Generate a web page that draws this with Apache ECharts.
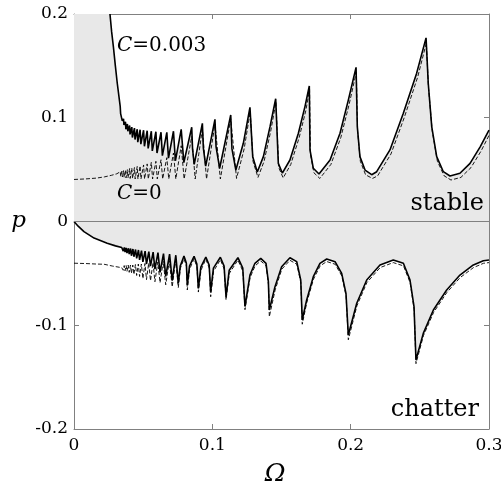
<!DOCTYPE html>
<html><head><meta charset="utf-8">
<script src="https://cdn.jsdelivr.net/npm/echarts@6/dist/echarts.min.js"></script>
<style>html,body{margin:0;padding:0;background:#fff;overflow:hidden}#c{width:501px;height:487px}</style>
</head><body><div id="c"></div>
<script>
// tick labels
const xTickLabels = ['0', '0.1', '0.2', '0.3'];
const yTickLabels = ['-0.2', '-0.1', '0', '0.1', '0.2'];

// upper boundary, C = 0.003 (solid) [Omega, p]
const upperC003 = [
  [0.0260,0.200],[0.0272,0.183],[0.0285,0.168],[0.0299,0.150],[0.0313,0.133],
  [0.0334,0.111],[0.0337,0.104],[0.0346,0.103],[0.0349,0.097],[0.0358,0.099],[0.0361,0.093],
  [0.0372,0.096],[0.0375,0.089],[0.0386,0.094],[0.0389,0.087],[0.0402,0.0925],[0.0405,0.084],
  [0.0418,0.091],[0.0422,0.081],[0.0437,0.090],[0.0441,0.079],[0.0457,0.089],[0.0461,0.0765],
  [0.0478,0.0885],[0.0483,0.0745],[0.0503,0.088],[0.0509,0.0725],[0.0529,0.0875],[0.0536,0.0705],
  [0.0559,0.087],[0.0566,0.068],[0.0592,0.0865],[0.0600,0.066],[0.0629,0.086],[0.0639,0.0635],
  [0.0671,0.086],[0.0683,0.061],[0.0719,0.087],[0.0733,0.0585],[0.0775,0.0888],[0.0794,0.0568],
  [0.0851,0.0908],[0.0857,0.070],[0.0869,0.055],[0.0928,0.0946],[0.0935,0.071],[0.0952,0.0533],
  [0.1019,0.0985],[0.1027,0.072],[0.1053,0.0513],
  [0.1133,0.1027],[0.1142,0.070],[0.1170,0.0496],[0.1224,0.0754],
  [0.1272,0.110],[0.1292,0.0625],[0.1325,0.0477],[0.1369,0.0625],[0.1417,0.0914],
  [0.1458,0.1184],[0.1477,0.056],[0.1506,0.0467],[0.1561,0.0593],[0.1622,0.085],[0.1670,0.111],
  [0.1701,0.1306],[0.1706,0.069],[0.1730,0.0513],[0.1771,0.0458],[0.1851,0.0593],[0.1923,0.085],[0.1983,0.117],
  [0.2039,0.1486],[0.2048,0.0914],[0.2067,0.0625],[0.2104,0.0496],[0.2152,0.0451],[0.2188,0.048],
  [0.2284,0.069],[0.2380,0.104],[0.2477,0.143],
  [0.2545,0.177],[0.2561,0.133],[0.2586,0.0914],[0.2622,0.0625],[0.2670,0.048],[0.2718,0.0439],
  [0.2790,0.0465],[0.2863,0.056],[0.2936,0.072],[0.3000,0.088]
];

// upper boundary, C = 0 (dashed)
const upperC0 = [
  [0.000,0.0405],[0.008,0.041],[0.016,0.0418],[0.022,0.043],[0.027,0.0445],[0.031,0.046],
  [0.0334,0.048],[0.0338,0.0435],[0.0346,0.0485],[0.0350,0.043],[0.0358,0.049],[0.0362,0.0425],
  [0.0372,0.0495],[0.0376,0.042],[0.0386,0.050],[0.0390,0.042],[0.0402,0.051],[0.0406,0.0415],
  [0.0418,0.0515],[0.0423,0.0415],[0.0437,0.052],[0.0442,0.041],[0.0457,0.053],[0.0462,0.041],
  [0.0478,0.0535],[0.0484,0.041],[0.0503,0.0545],[0.0510,0.041],[0.0529,0.0555],[0.0537,0.041],
  [0.0559,0.057],[0.0568,0.041],[0.0592,0.058],[0.0602,0.041],[0.0629,0.0595],[0.0641,0.041],
  [0.0671,0.0615],[0.0685,0.041],[0.0719,0.066],[0.0736,0.041],[0.0775,0.073],[0.0796,0.041],
  [0.0851,0.082],[0.0876,0.041],[0.0928,0.089],[0.0958,0.041],[0.1019,0.094],[0.1058,0.041],
  [0.1133,0.099],[0.1175,0.0415],[0.1230,0.070],
  [0.1274,0.106],[0.1294,0.058],[0.1330,0.0425],[0.1374,0.058],[0.1422,0.087],
  [0.1460,0.115],[0.1480,0.052],[0.1512,0.042],[0.1567,0.055],[0.1628,0.081],[0.1676,0.107],
  [0.1703,0.127],[0.1709,0.065],[0.1734,0.047],[0.1777,0.0415],[0.1857,0.055],[0.1929,0.081],[0.1989,0.113],
  [0.2041,0.144],[0.2050,0.087],[0.2070,0.058],[0.2108,0.045],[0.2158,0.0415],[0.2195,0.044],
  [0.2291,0.065],[0.2387,0.100],[0.2484,0.139],
  [0.2547,0.172],[0.2563,0.128],[0.2590,0.087],[0.2627,0.058],[0.2676,0.044],[0.2725,0.040],
  [0.2797,0.0425],[0.2870,0.052],[0.2943,0.068],[0.3000,0.083]
];

// lower boundary, C = 0.003 (solid)
const lowerC003 = [
  [0.000,0.000],[0.003,-0.0045],[0.0072,-0.0098],[0.0145,-0.016],[0.024,-0.021],[0.030,-0.0235],[0.0345,-0.025],
  [0.0356,-0.0285],[0.0364,-0.025],[0.0369,-0.0295],[0.0377,-0.0255],[0.0383,-0.0305],[0.0393,-0.0258],
  [0.0399,-0.0315],[0.0409,-0.026],[0.0415,-0.033],[0.0426,-0.0265],[0.0433,-0.034],[0.0445,-0.027],
  [0.0453,-0.0355],[0.0466,-0.0275],[0.0474,-0.037],[0.0488,-0.028],[0.0498,-0.039],[0.0514,-0.0285],
  [0.0524,-0.041],[0.0541,-0.029],[0.0553,-0.043],[0.0572,-0.0295],[0.0585,-0.046],[0.0607,-0.030],
  [0.0622,-0.049],[0.0647,-0.031],[0.0663,-0.053],[0.0691,-0.0315],[0.0710,-0.057],[0.0736,-0.0325],
  [0.0754,-0.0596],[0.0768,-0.043],[0.0795,-0.0333],[0.0812,-0.040],
  [0.0819,-0.0612],[0.0835,-0.043],[0.0868,-0.0335],[0.0888,-0.041],
  [0.0899,-0.0644],[0.0917,-0.044],[0.0953,-0.0342],[0.0977,-0.042],
  [0.0988,-0.0677],[0.1008,-0.045],[0.1058,-0.0345],[0.1085,-0.043],
  [0.1099,-0.0725],[0.1122,-0.047],[0.1185,-0.0349],[0.1220,-0.045],
  [0.1236,-0.082],[0.1272,-0.0516],[0.1308,-0.0403],[0.1350,-0.0355],[0.1388,-0.0403],[0.1405,-0.058],
  [0.1412,-0.0853],[0.1453,-0.0628],[0.1501,-0.0436],[0.1561,-0.0349],[0.1610,-0.0387],[0.1639,-0.0564],
  [0.1650,-0.0949],[0.1682,-0.0757],[0.1730,-0.0532],[0.1778,-0.0403],[0.1827,-0.0361],[0.1887,-0.0387],[0.1935,-0.050],[0.1966,-0.0692],
  [0.1983,-0.1094],[0.2044,-0.0788],[0.2116,-0.0564],[0.2212,-0.0419],[0.2308,-0.0371],[0.2381,-0.0403],[0.2429,-0.0564],[0.2458,-0.0821],
  [0.2472,-0.1335],[0.2525,-0.1078],[0.2598,-0.0853],[0.2694,-0.066],[0.2790,-0.0516],[0.2887,-0.0419],[0.2959,-0.0378],[0.3000,-0.0371]
];

// lower boundary, C = 0 (dashed)
const lowerC0 = [
  [0.000,-0.0402],[0.008,-0.0405],[0.016,-0.041],[0.0217,-0.0412],[0.028,-0.043],[0.0345,-0.0445],
  [0.0356,-0.047],[0.0363,-0.0425],[0.0369,-0.0475],[0.0377,-0.0425],[0.0383,-0.048],[0.0392,-0.042],
  [0.0399,-0.049],[0.0408,-0.042],[0.0415,-0.050],[0.0425,-0.042],[0.0433,-0.051],[0.0444,-0.0415],
  [0.0453,-0.052],[0.0465,-0.041],[0.0474,-0.053],[0.0487,-0.041],[0.0498,-0.055],[0.0513,-0.0405],
  [0.0524,-0.056],[0.0540,-0.040],[0.0553,-0.057],[0.0571,-0.0395],[0.0585,-0.058],[0.0606,-0.039],
  [0.0622,-0.059],[0.0645,-0.0385],[0.0663,-0.061],[0.0689,-0.038],[0.0710,-0.063],[0.0735,-0.037],
  [0.0754,-0.0638],[0.0769,-0.045],[0.0795,-0.036],[0.0813,-0.043],
  [0.0819,-0.066],[0.0836,-0.046],[0.0868,-0.0358],[0.0889,-0.044],
  [0.0899,-0.068],[0.0918,-0.047],[0.0953,-0.0362],[0.0978,-0.045],
  [0.0988,-0.0725],[0.1009,-0.048],[0.1058,-0.0368],[0.1086,-0.046],
  [0.1099,-0.0757],[0.1123,-0.050],[0.1185,-0.0372],[0.1221,-0.048],
  [0.1236,-0.085],[0.1273,-0.054],[0.1309,-0.0428],[0.1350,-0.038],[0.1389,-0.0428],[0.1406,-0.061],
  [0.1412,-0.0918],[0.1454,-0.066],[0.1502,-0.046],[0.1561,-0.0374],[0.1611,-0.0412],[0.1640,-0.059],
  [0.1650,-0.099],[0.1683,-0.078],[0.1731,-0.0557],[0.1779,-0.0428],[0.1827,-0.0386],[0.1888,-0.0412],[0.1936,-0.0525],[0.1967,-0.072],
  [0.1983,-0.114],[0.2045,-0.0813],[0.2117,-0.0589],[0.2213,-0.0444],[0.2308,-0.0396],[0.2382,-0.0428],[0.2430,-0.059],[0.2459,-0.085],
  [0.2472,-0.137],[0.2526,-0.110],[0.2599,-0.0878],[0.2695,-0.0685],[0.2791,-0.0541],[0.2888,-0.0444],[0.2960,-0.0403],[0.3000,-0.0396]
];

const FONT = 'DejaVu Serif';
const AXIS_GREY = '#808080';
const FILL = '#e8e8e8';

const chart = echarts.init(document.getElementById('c'), null, {renderer: 'canvas'});

function xAx(pos, labels) {
  return {
    type: 'value', position: pos, min: 0, max: 0.3, interval: 0.1,
    axisLine: {show: true, onZero: false, lineStyle: {color: AXIS_GREY, width: 1}},
    axisTick: {show: true, inside: true, length: 5, lineStyle: {color: AXIS_GREY}},
    splitLine: {show: false},
    axisLabel: {show: labels, margin: 8, color: '#000', fontFamily: FONT, fontSize: 17,
      formatter: v => xTickLabels[Math.round(v * 10)]}
  };
}
function yAx(pos, labels) {
  return {
    type: 'value', position: pos, min: -0.2, max: 0.2, interval: 0.1,
    axisLine: {show: true, onZero: false, lineStyle: {color: AXIS_GREY, width: 1}},
    axisTick: {show: true, inside: true, length: 5, lineStyle: {color: AXIS_GREY}},
    splitLine: {show: false},
    axisLabel: {show: labels, margin: 6, color: '#000', fontFamily: FONT, fontSize: 17,
      formatter: v => yTickLabels[Math.round(v * 10) + 2]}
  };
}

const xMain = xAx('bottom', true);
xMain.name = 'Ω';
xMain.nameLocation = 'middle';
xMain.nameGap = 33;
xMain.nameTextStyle = {fontFamily: FONT, fontStyle: 'italic', fontSize: 25, color: '#000', padding: [0, 13, 0, 0]};
const yMain = yAx('left', true);
yMain.name = 'p';
yMain.nameLocation = 'middle';
yMain.nameGap = 48;
yMain.nameRotate = 0;
yMain.nameTextStyle = {fontFamily: FONT, fontStyle: 'italic', fontSize: 23, color: '#000', padding: [12, 0, 0, 0]};

const option = {
  animation: false,
  backgroundColor: '#fff',
  grid: {left: 74, right: 12, top: 14, bottom: 58, containLabel: false, outerBoundsMode: 'none'},
  xAxis: [xMain, xAx('top', false)],
  yAxis: [yMain, yAx('right', false)],
  series: [
    {
      type: 'line', data: upperC003, symbol: 'none', silent: true, z: 1,
      lineStyle: {width: 0, opacity: 0},
      areaStyle: {color: FILL, opacity: 1, origin: 'auto'},
      markArea: {silent: true, itemStyle: {color: FILL, opacity: 1},
        data: [[{coord: [0, 0]}, {coord: [upperC003[0][0], upperC003[0][1]]}]]},
      markLine: {silent: true, symbol: ['none', 'none'], label: {show: false},
        lineStyle: {color: AXIS_GREY, type: 'solid', width: 1}, data: [{yAxis: 0}]}
    },
    {
      type: 'line', data: lowerC003, symbol: 'none', silent: true, z: 1,
      lineStyle: {width: 0, opacity: 0},
      areaStyle: {color: FILL, opacity: 1, origin: 'auto'}
    },
    {
      type: 'line', data: upperC0, symbol: 'none', silent: true, z: 2,
      lineStyle: {color: '#000', width: 0.9, type: [4, 2]}
    },
    {
      type: 'line', data: lowerC0, symbol: 'none', silent: true, z: 2,
      lineStyle: {color: '#000', width: 0.9, type: [4, 2]}
    },
    {
      type: 'line', data: upperC003, symbol: 'none', silent: true, z: 3,
      lineStyle: {color: '#000', width: 1.6}
    },
    {
      type: 'line', data: lowerC003, symbol: 'none', silent: true, z: 3,
      lineStyle: {color: '#000', width: 1.6}
    }
  ],
  graphic: [
    {type: 'text', left: 117, top: 36, z: 10, style: {
      text: '{i|C}=0.003', fontFamily: FONT, fontSize: 20, fill: '#000',
      rich: {i: {fontFamily: FONT, fontStyle: 'italic', fontSize: 20, fill: '#000'}}}},
    {type: 'text', left: 117, top: 184, z: 10, style: {
      text: '{i|C}=0', fontFamily: FONT, fontSize: 20, fill: '#000',
      rich: {i: {fontFamily: FONT, fontStyle: 'italic', fontSize: 20, fill: '#000'}}}},
    {type: 'text', right: 17, top: 192, z: 10, style: {
      text: 'stable', fontFamily: FONT, fontSize: 24, fill: '#000'}},
    {type: 'text', right: 22, top: 398, z: 10, style: {
      text: 'chatter', fontFamily: FONT, fontSize: 24, fill: '#000'}}
  ]
};
chart.setOption(option);
</script>
</body></html>
